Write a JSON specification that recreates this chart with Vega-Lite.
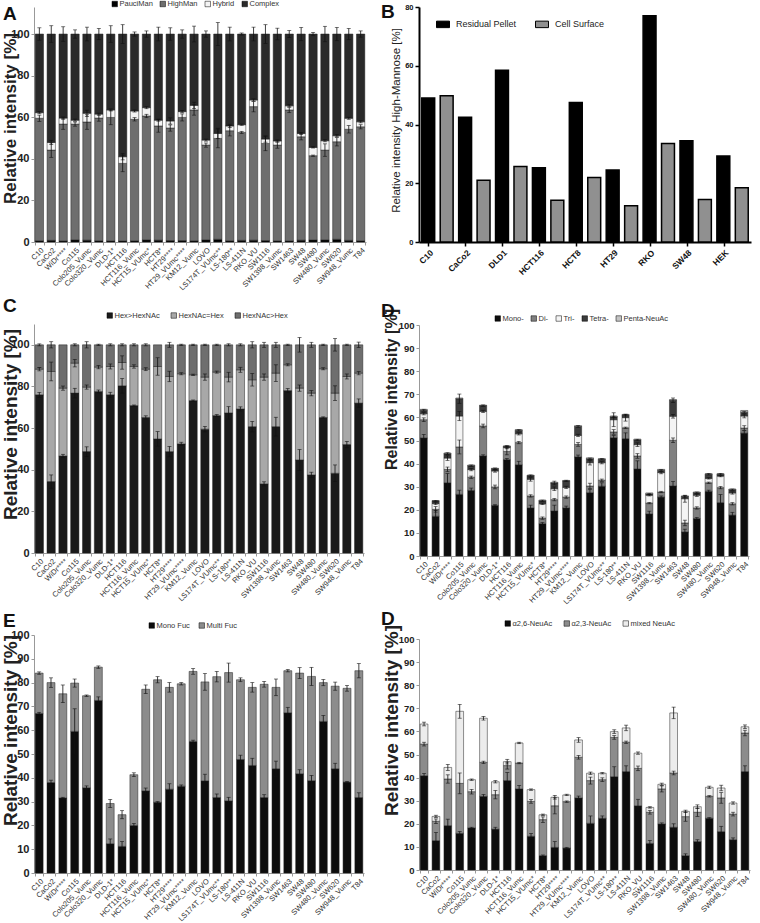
{
"$schema": "https://vega.github.io/schema/vega-lite/v6.json",
"padding": {"left": 1, "top": 0, "right": 2, "bottom": 2},
"spacing": 15,
"resolve": {"scale": {"color": "independent", "x": "independent", "y": "independent"}, "legend": {"color": "independent"}},
"config": {
  "font": "Liberation Sans",
  "view": {"stroke": null},
  "axis": {"grid": false, "labelOverlap": false, "labelBound": false},
  "title": {"anchor": "start", "frame": "group", "fontSize": 19, "fontWeight": "bold", "color": "#111", "offset": 0}
},
"datasets": {
"A": [
{"c":"C10","k":"PauciMan","o":1,"v":0.6,"e":0},{"c":"C10","k":"HighMan","o":2,"v":58.9,"e":1.5},{"c":"C10","k":"Hybrid","o":3,"v":2.7,"e":0.5},{"c":"C10","k":"Complex","o":4,"v":37.8,"e":3},
{"c":"CaCo2","k":"PauciMan","o":1,"v":0.8,"e":0},{"c":"CaCo2","k":"HighMan","o":2,"v":43.4,"e":3.5},{"c":"CaCo2","k":"Hybrid","o":3,"v":3.7,"e":1},{"c":"CaCo2","k":"Complex","o":4,"v":52.1,"e":4},
{"c":"WiDr****","k":"PauciMan","o":1,"v":0.5,"e":0},{"c":"WiDr****","k":"HighMan","o":2,"v":56.2,"e":2.5},{"c":"WiDr****","k":"Hybrid","o":3,"v":2.9,"e":0.5},{"c":"WiDr****","k":"Complex","o":4,"v":40.4,"e":3.5},
{"c":"Co115","k":"PauciMan","o":1,"v":1,"e":0},{"c":"Co115","k":"HighMan","o":2,"v":55.7,"e":1},{"c":"Co115","k":"Hybrid","o":3,"v":1.9,"e":0.5},{"c":"Co115","k":"Complex","o":4,"v":41.4,"e":2},
{"c":"Colo205_Vumc","k":"PauciMan","o":1,"v":0.9,"e":0},{"c":"Colo205_Vumc","k":"HighMan","o":2,"v":56.8,"e":3.5},{"c":"Colo205_Vumc","k":"Hybrid","o":3,"v":4.2,"e":1.5},{"c":"Colo205_Vumc","k":"Complex","o":4,"v":38.1,"e":3.3},
{"c":"Colo320_Vumc","k":"PauciMan","o":1,"v":0.6,"e":0},{"c":"Colo320_Vumc","k":"HighMan","o":2,"v":59,"e":1.5},{"c":"Colo320_Vumc","k":"Hybrid","o":3,"v":1.9,"e":0.5},{"c":"Colo320_Vumc","k":"Complex","o":4,"v":38.5,"e":2.7},
{"c":"DLD-1*","k":"PauciMan","o":1,"v":0.5,"e":0},{"c":"DLD-1*","k":"HighMan","o":2,"v":59.4,"e":3.5},{"c":"DLD-1*","k":"Hybrid","o":3,"v":3.6,"e":0.5},{"c":"DLD-1*","k":"Complex","o":4,"v":36.5,"e":4},
{"c":"HCT116","k":"PauciMan","o":1,"v":0.5,"e":0},{"c":"HCT116","k":"HighMan","o":2,"v":37.3,"e":4},{"c":"HCT116","k":"Hybrid","o":3,"v":3.2,"e":1.5},{"c":"HCT116","k":"Complex","o":4,"v":59,"e":4.5},
{"c":"HCT116_Vumc","k":"PauciMan","o":1,"v":0.6,"e":0},{"c":"HCT116_Vumc","k":"HighMan","o":2,"v":58.4,"e":0.8},{"c":"HCT116_Vumc","k":"Hybrid","o":3,"v":4,"e":0.5},{"c":"HCT116_Vumc","k":"Complex","o":4,"v":37,"e":1},
{"c":"HCT15_VUmc*","k":"PauciMan","o":1,"v":1,"e":0},{"c":"HCT15_VUmc*","k":"HighMan","o":2,"v":59.6,"e":0.8},{"c":"HCT15_VUmc*","k":"Hybrid","o":3,"v":4,"e":0.5},{"c":"HCT15_VUmc*","k":"Complex","o":4,"v":35.4,"e":1.5},
{"c":"HCT8*","k":"PauciMan","o":1,"v":0.9,"e":0},{"c":"HCT8*","k":"HighMan","o":2,"v":54.9,"e":3},{"c":"HCT8*","k":"Hybrid","o":3,"v":2.8,"e":0.5},{"c":"HCT8*","k":"Complex","o":4,"v":41.4,"e":3.3},
{"c":"HT29****","k":"PauciMan","o":1,"v":0.7,"e":0},{"c":"HT29****","k":"HighMan","o":2,"v":54.1,"e":1.5},{"c":"HT29****","k":"Hybrid","o":3,"v":3.4,"e":1.5},{"c":"HT29****","k":"Complex","o":4,"v":41.8,"e":3},
{"c":"HT29_VUmc****","k":"PauciMan","o":1,"v":0.7,"e":0},{"c":"HT29_VUmc****","k":"HighMan","o":2,"v":59.2,"e":1.7},{"c":"HT29_VUmc****","k":"Hybrid","o":3,"v":2.8,"e":0.5},{"c":"HT29_VUmc****","k":"Complex","o":4,"v":37.3,"e":2},
{"c":"KM12_Vumc","k":"PauciMan","o":1,"v":0.6,"e":0},{"c":"KM12_Vumc","k":"HighMan","o":2,"v":62.9,"e":2.5},{"c":"KM12_Vumc","k":"Hybrid","o":3,"v":2.2,"e":1.5},{"c":"KM12_Vumc","k":"Complex","o":4,"v":34.3,"e":3.8},
{"c":"LOVO","k":"PauciMan","o":1,"v":1,"e":0},{"c":"LOVO","k":"HighMan","o":2,"v":45.6,"e":1},{"c":"LOVO","k":"Hybrid","o":3,"v":2.4,"e":0.5},{"c":"LOVO","k":"Complex","o":4,"v":51,"e":1.5},
{"c":"LS174T_VUmc**","k":"PauciMan","o":1,"v":1.3,"e":0},{"c":"LS174T_VUmc**","k":"HighMan","o":2,"v":48.5,"e":4.5},{"c":"LS174T_VUmc**","k":"Hybrid","o":3,"v":2.4,"e":2.5},{"c":"LS174T_VUmc**","k":"Complex","o":4,"v":47.8,"e":5.5},
{"c":"LS-180**","k":"PauciMan","o":1,"v":0.6,"e":0},{"c":"LS-180**","k":"HighMan","o":2,"v":52.9,"e":2.5},{"c":"LS-180**","k":"Hybrid","o":3,"v":2.3,"e":0.8},{"c":"LS-180**","k":"Complex","o":4,"v":44.2,"e":3.3},
{"c":"LS-411N","k":"PauciMan","o":1,"v":0.8,"e":0},{"c":"LS-411N","k":"HighMan","o":2,"v":51.9,"e":0.5},{"c":"LS-411N","k":"Hybrid","o":3,"v":3.7,"e":0.3},{"c":"LS-411N","k":"Complex","o":4,"v":43.6,"e":0.5},
{"c":"RKO_VU","k":"PauciMan","o":1,"v":0.9,"e":0},{"c":"RKO_VU","k":"HighMan","o":2,"v":64.2,"e":2.5},{"c":"RKO_VU","k":"Hybrid","o":3,"v":3.2,"e":0.5},{"c":"RKO_VU","k":"Complex","o":4,"v":31.7,"e":3.3},
{"c":"SW1116","k":"PauciMan","o":1,"v":0.7,"e":0},{"c":"SW1116","k":"HighMan","o":2,"v":46.7,"e":3.5},{"c":"SW1116","k":"Hybrid","o":3,"v":2.1,"e":1.5},{"c":"SW1116","k":"Complex","o":4,"v":50.5,"e":4.5},
{"c":"SW1398_Vumc","k":"PauciMan","o":1,"v":0.5,"e":0},{"c":"SW1398_Vumc","k":"HighMan","o":2,"v":46.1,"e":1.5},{"c":"SW1398_Vumc","k":"Hybrid","o":3,"v":2,"e":0.5},{"c":"SW1398_Vumc","k":"Complex","o":4,"v":51.4,"e":2.8},
{"c":"SW1463","k":"PauciMan","o":1,"v":0.5,"e":0},{"c":"SW1463","k":"HighMan","o":2,"v":63,"e":1.3},{"c":"SW1463","k":"Hybrid","o":3,"v":2,"e":0.5},{"c":"SW1463","k":"Complex","o":4,"v":34.5,"e":1.7},
{"c":"SW48","k":"PauciMan","o":1,"v":0.9,"e":0},{"c":"SW48","k":"HighMan","o":2,"v":49.7,"e":1.5},{"c":"SW48","k":"Hybrid","o":3,"v":1.6,"e":0.5},{"c":"SW48","k":"Complex","o":4,"v":47.8,"e":3.2},
{"c":"SW480","k":"PauciMan","o":1,"v":1,"e":0},{"c":"SW480","k":"HighMan","o":2,"v":40.5,"e":0.3},{"c":"SW480","k":"Hybrid","o":3,"v":4,"e":0.3},{"c":"SW480","k":"Complex","o":4,"v":54.5,"e":0.8},
{"c":"SW480_Vumc","k":"PauciMan","o":1,"v":1,"e":0},{"c":"SW480_Vumc","k":"HighMan","o":2,"v":43.2,"e":3},{"c":"SW480_Vumc","k":"Hybrid","o":3,"v":4.5,"e":0.5},{"c":"SW480_Vumc","k":"Complex","o":4,"v":51.3,"e":3.7},
{"c":"SW620","k":"PauciMan","o":1,"v":1.3,"e":0},{"c":"SW620","k":"HighMan","o":2,"v":46.9,"e":2},{"c":"SW620","k":"Hybrid","o":3,"v":2.9,"e":0.5},{"c":"SW620","k":"Complex","o":4,"v":48.9,"e":3.2},
{"c":"SW948_Vumc","k":"PauciMan","o":1,"v":0.8,"e":0},{"c":"SW948_Vumc","k":"HighMan","o":2,"v":53.4,"e":1.8},{"c":"SW948_Vumc","k":"Hybrid","o":3,"v":5.3,"e":0.5},{"c":"SW948_Vumc","k":"Complex","o":4,"v":40.5,"e":2.7},
{"c":"T84","k":"PauciMan","o":1,"v":0.6,"e":0},{"c":"T84","k":"HighMan","o":2,"v":54.8,"e":1},{"c":"T84","k":"Hybrid","o":3,"v":2.4,"e":0.5},{"c":"T84","k":"Complex","o":4,"v":42.2,"e":1.5}
],
"B": [
{"c":"C10","k":"Residual Pellet","v":49},{"c":"C10","k":"Cell Surface","v":49.8},
{"c":"CaCo2","k":"Residual Pellet","v":42.5},{"c":"CaCo2","k":"Cell Surface","v":21},
{"c":"DLD1","k":"Residual Pellet","v":58.5},{"c":"DLD1","k":"Cell Surface","v":25.7},
{"c":"HCT116","k":"Residual Pellet","v":25.3},{"c":"HCT116","k":"Cell Surface","v":14.2},
{"c":"HCT8","k":"Residual Pellet","v":47.5},{"c":"HCT8","k":"Cell Surface","v":22},
{"c":"HT29","k":"Residual Pellet","v":24.5},{"c":"HT29","k":"Cell Surface","v":12.3},
{"c":"RKO","k":"Residual Pellet","v":77},{"c":"RKO","k":"Cell Surface","v":33.5},
{"c":"SW48","k":"Residual Pellet","v":34.5},{"c":"SW48","k":"Cell Surface","v":14.5},
{"c":"HEK","k":"Residual Pellet","v":29.3},{"c":"HEK","k":"Cell Surface","v":18.5}
],
"C": [
{"c":"C10","k":"Hex>HexNAc","o":1,"v":76,"e":1.2},{"c":"C10","k":"HexNAc=Hex","o":2,"v":12.3,"e":0.8},{"c":"C10","k":"HexNAc>Hex","o":3,"v":11.7,"e":0.5},
{"c":"CaCo2","k":"Hex>HexNAc","o":1,"v":34.3,"e":3.2},{"c":"CaCo2","k":"HexNAc=Hex","o":2,"v":52.9,"e":4.5},{"c":"CaCo2","k":"HexNAc>Hex","o":3,"v":12.8,"e":1.5},
{"c":"WiDr****","k":"Hex>HexNAc","o":1,"v":46.6,"e":0.8},{"c":"WiDr****","k":"HexNAc=Hex","o":2,"v":32.6,"e":1},{"c":"WiDr****","k":"HexNAc>Hex","o":3,"v":20.8,"e":0},
{"c":"Co115","k":"Hex>HexNAc","o":1,"v":76.8,"e":2.3},{"c":"Co115","k":"HexNAc=Hex","o":2,"v":14.4,"e":1.8},{"c":"Co115","k":"HexNAc>Hex","o":3,"v":8.8,"e":0.5},
{"c":"Colo205_Vumc","k":"Hex>HexNAc","o":1,"v":48.7,"e":2.3},{"c":"Colo205_Vumc","k":"HexNAc=Hex","o":2,"v":31,"e":1},{"c":"Colo205_Vumc","k":"HexNAc>Hex","o":3,"v":20.3,"e":1.5},
{"c":"Colo320_Vumc","k":"Hex>HexNAc","o":1,"v":77.6,"e":0.7},{"c":"Colo320_Vumc","k":"HexNAc=Hex","o":2,"v":11.7,"e":0.8},{"c":"Colo320_Vumc","k":"HexNAc>Hex","o":3,"v":10.7,"e":0.3},
{"c":"DLD-1*","k":"Hex>HexNAc","o":1,"v":76,"e":1.2},{"c":"DLD-1*","k":"HexNAc=Hex","o":2,"v":13.6,"e":1.2},{"c":"DLD-1*","k":"HexNAc>Hex","o":3,"v":10.4,"e":0.5},
{"c":"HCT116","k":"Hex>HexNAc","o":1,"v":80.3,"e":3.5},{"c":"HCT116","k":"HexNAc=Hex","o":2,"v":11.2,"e":3.2},{"c":"HCT116","k":"HexNAc>Hex","o":3,"v":8.5,"e":0.5},
{"c":"HCT116_Vumc","k":"Hex>HexNAc","o":1,"v":70.8,"e":0.3},{"c":"HCT116_Vumc","k":"HexNAc=Hex","o":2,"v":18.8,"e":0.8},{"c":"HCT116_Vumc","k":"HexNAc>Hex","o":3,"v":10.4,"e":0.5},
{"c":"HCT15_VUmc*","k":"Hex>HexNAc","o":1,"v":65.1,"e":0.8},{"c":"HCT15_VUmc*","k":"HexNAc=Hex","o":2,"v":23.2,"e":0.7},{"c":"HCT15_VUmc*","k":"HexNAc>Hex","o":3,"v":11.7,"e":0.5},
{"c":"HCT8*","k":"Hex>HexNAc","o":1,"v":54.8,"e":3.5},{"c":"HCT8*","k":"HexNAc=Hex","o":2,"v":34.8,"e":4.2},{"c":"HCT8*","k":"HexNAc>Hex","o":3,"v":10.4,"e":0},
{"c":"HT29****","k":"Hex>HexNAc","o":1,"v":48.7,"e":2.5},{"c":"HT29****","k":"HexNAc=Hex","o":2,"v":36.1,"e":2.5},{"c":"HT29****","k":"HexNAc>Hex","o":3,"v":15.2,"e":1.2},
{"c":"HT29_VUmc****","k":"Hex>HexNAc","o":1,"v":52.4,"e":0.8},{"c":"HT29_VUmc****","k":"HexNAc=Hex","o":2,"v":33.7,"e":0.5},{"c":"HT29_VUmc****","k":"HexNAc>Hex","o":3,"v":13.9,"e":0.3},
{"c":"KM12_Vumc","k":"Hex>HexNAc","o":1,"v":73.2,"e":0.3},{"c":"KM12_Vumc","k":"HexNAc=Hex","o":2,"v":12.4,"e":0.3},{"c":"KM12_Vumc","k":"HexNAc>Hex","o":3,"v":14.4,"e":0.3},
{"c":"LOVO","k":"Hex>HexNAc","o":1,"v":59.5,"e":1.3},{"c":"LOVO","k":"HexNAc=Hex","o":2,"v":25,"e":1.5},{"c":"LOVO","k":"HexNAc>Hex","o":3,"v":15.5,"e":0.3},
{"c":"LS174T_VUmc**","k":"Hex>HexNAc","o":1,"v":66,"e":0.5},{"c":"LS174T_VUmc**","k":"HexNAc=Hex","o":2,"v":20.9,"e":0.5},{"c":"LS174T_VUmc**","k":"HexNAc>Hex","o":3,"v":13.1,"e":0.3},
{"c":"LS-180**","k":"Hex>HexNAc","o":1,"v":67.3,"e":3},{"c":"LS-180**","k":"HexNAc=Hex","o":2,"v":17.2,"e":2.3},{"c":"LS-180**","k":"HexNAc>Hex","o":3,"v":15.5,"e":0.5},
{"c":"LS-411N","k":"Hex>HexNAc","o":1,"v":69.2,"e":1},{"c":"LS-411N","k":"HexNAc=Hex","o":2,"v":18.8,"e":1.2},{"c":"LS-411N","k":"HexNAc>Hex","o":3,"v":12,"e":0.5},
{"c":"RKO_VU","k":"Hex>HexNAc","o":1,"v":60.7,"e":2.5},{"c":"RKO_VU","k":"HexNAc=Hex","o":2,"v":22.5,"e":3},{"c":"RKO_VU","k":"HexNAc>Hex","o":3,"v":16.8,"e":1.5},
{"c":"SW1116","k":"Hex>HexNAc","o":1,"v":33.2,"e":1},{"c":"SW1116","k":"HexNAc=Hex","o":2,"v":51.3,"e":1.5},{"c":"SW1116","k":"HexNAc>Hex","o":3,"v":15.5,"e":1.2},
{"c":"SW1398_Vumc","k":"Hex>HexNAc","o":1,"v":60.7,"e":4.5},{"c":"SW1398_Vumc","k":"HexNAc=Hex","o":2,"v":25.7,"e":4},{"c":"SW1398_Vumc","k":"HexNAc>Hex","o":3,"v":13.6,"e":1.2},
{"c":"SW1463","k":"Hex>HexNAc","o":1,"v":78,"e":1},{"c":"SW1463","k":"HexNAc=Hex","o":2,"v":12.4,"e":0.5},{"c":"SW1463","k":"HexNAc>Hex","o":3,"v":9.6,"e":0.3},
{"c":"SW48","k":"Hex>HexNAc","o":1,"v":44.7,"e":5},{"c":"SW48","k":"HexNAc=Hex","o":2,"v":34.5,"e":1.5},{"c":"SW48","k":"HexNAc>Hex","o":3,"v":20.8,"e":3.5},
{"c":"SW480","k":"Hex>HexNAc","o":1,"v":37.5,"e":1.3},{"c":"SW480","k":"HexNAc=Hex","o":2,"v":39.3,"e":1.3},{"c":"SW480","k":"HexNAc>Hex","o":3,"v":23.2,"e":1.2},
{"c":"SW480_Vumc","k":"Hex>HexNAc","o":1,"v":65.1,"e":0.3},{"c":"SW480_Vumc","k":"HexNAc=Hex","o":2,"v":23.4,"e":0.5},{"c":"SW480_Vumc","k":"HexNAc>Hex","o":3,"v":11.5,"e":0.3},
{"c":"SW620","k":"Hex>HexNAc","o":1,"v":38.3,"e":4},{"c":"SW620","k":"HexNAc=Hex","o":2,"v":38.5,"e":3.5},{"c":"SW620","k":"HexNAc>Hex","o":3,"v":23.2,"e":3},
{"c":"SW948_Vumc","k":"Hex>HexNAc","o":1,"v":52.1,"e":1.5},{"c":"SW948_Vumc","k":"HexNAc=Hex","o":2,"v":32.7,"e":1.2},{"c":"SW948_Vumc","k":"HexNAc>Hex","o":3,"v":15.2,"e":0.3},
{"c":"T84","k":"Hex>HexNAc","o":1,"v":72,"e":2},{"c":"T84","k":"HexNAc=Hex","o":2,"v":14.4,"e":0.8},{"c":"T84","k":"HexNAc>Hex","o":3,"v":13.6,"e":1.3}
],
"D": [
{"c":"C10","k":"Mono-","o":1,"v":51.1,"e":1.5},{"c":"C10","k":"Di-","o":2,"v":7.9,"e":0.8},{"c":"C10","k":"Tri-","o":3,"v":2.6,"e":0.5},{"c":"C10","k":"Tetra-","o":4,"v":1.5,"e":0.4},{"c":"C10","k":"Penta-NeuAc","o":5,"v":0.4,"e":0},
{"c":"CaCo2","k":"Mono-","o":1,"v":17.2,"e":2.5},{"c":"CaCo2","k":"Di-","o":2,"v":3,"e":1.2},{"c":"CaCo2","k":"Tri-","o":3,"v":2.5,"e":0.5},{"c":"CaCo2","k":"Tetra-","o":4,"v":1.1,"e":0.3},{"c":"CaCo2","k":"Penta-NeuAc","o":5,"v":0.2,"e":0},
{"c":"WiDr****","k":"Mono-","o":1,"v":31.7,"e":4},{"c":"WiDr****","k":"Di-","o":2,"v":5.8,"e":1},{"c":"WiDr****","k":"Tri-","o":3,"v":4.9,"e":1},{"c":"WiDr****","k":"Tetra-","o":4,"v":1.9,"e":0.4},{"c":"WiDr****","k":"Penta-NeuAc","o":5,"v":0.3,"e":0},
{"c":"Co115","k":"Mono-","o":1,"v":26.7,"e":1.8},{"c":"Co115","k":"Di-","o":2,"v":20.5,"e":3},{"c":"Co115","k":"Tri-","o":3,"v":13.4,"e":2},{"c":"Co115","k":"Tetra-","o":4,"v":7.5,"e":2},{"c":"Co115","k":"Penta-NeuAc","o":5,"v":0.3,"e":0},
{"c":"Colo205_Vumc","k":"Mono-","o":1,"v":28.4,"e":1},{"c":"Colo205_Vumc","k":"Di-","o":2,"v":5.7,"e":0.5},{"c":"Colo205_Vumc","k":"Tri-","o":3,"v":3.3,"e":0.5},{"c":"Colo205_Vumc","k":"Tetra-","o":4,"v":1.7,"e":0.3},{"c":"Colo205_Vumc","k":"Penta-NeuAc","o":5,"v":0.3,"e":0},
{"c":"Colo320_Vumc","k":"Mono-","o":1,"v":43.3,"e":0.5},{"c":"Colo320_Vumc","k":"Di-","o":2,"v":13,"e":0.8},{"c":"Colo320_Vumc","k":"Tri-","o":3,"v":6.3,"e":0.5},{"c":"Colo320_Vumc","k":"Tetra-","o":4,"v":2.5,"e":0.3},{"c":"Colo320_Vumc","k":"Penta-NeuAc","o":5,"v":0.2,"e":0},
{"c":"DLD-1*","k":"Mono-","o":1,"v":21.9,"e":0.3},{"c":"DLD-1*","k":"Di-","o":2,"v":8,"e":0.8},{"c":"DLD-1*","k":"Tri-","o":3,"v":6.9,"e":0.5},{"c":"DLD-1*","k":"Tetra-","o":4,"v":1,"e":0.3},{"c":"DLD-1*","k":"Penta-NeuAc","o":5,"v":0.2,"e":0},
{"c":"HCT116","k":"Mono-","o":1,"v":41.7,"e":0.5},{"c":"HCT116","k":"Di-","o":2,"v":3.6,"e":1.5},{"c":"HCT116","k":"Tri-","o":3,"v":1.6,"e":0.5},{"c":"HCT116","k":"Tetra-","o":4,"v":0.6,"e":0.3},{"c":"HCT116","k":"Penta-NeuAc","o":5,"v":0.1,"e":0},
{"c":"HCT116_Vumc","k":"Mono-","o":1,"v":39.5,"e":1.5},{"c":"HCT116_Vumc","k":"Di-","o":2,"v":9.6,"e":0.5},{"c":"HCT116_Vumc","k":"Tri-","o":3,"v":3.8,"e":0.5},{"c":"HCT116_Vumc","k":"Tetra-","o":4,"v":1.5,"e":0.3},{"c":"HCT116_Vumc","k":"Penta-NeuAc","o":5,"v":0.3,"e":0},
{"c":"HCT15_VUmc*","k":"Mono-","o":1,"v":20.8,"e":1.2},{"c":"HCT15_VUmc*","k":"Di-","o":2,"v":5.2,"e":0.5},{"c":"HCT15_VUmc*","k":"Tri-","o":3,"v":7.2,"e":0.8},{"c":"HCT15_VUmc*","k":"Tetra-","o":4,"v":1.6,"e":0.3},{"c":"HCT15_VUmc*","k":"Penta-NeuAc","o":5,"v":0.2,"e":0},
{"c":"HCT8*","k":"Mono-","o":1,"v":14,"e":0.5},{"c":"HCT8*","k":"Di-","o":2,"v":2.4,"e":0.5},{"c":"HCT8*","k":"Tri-","o":3,"v":6.2,"e":0.3},{"c":"HCT8*","k":"Tetra-","o":4,"v":1.3,"e":0.3},{"c":"HCT8*","k":"Penta-NeuAc","o":5,"v":0.3,"e":0},
{"c":"HT29****","k":"Mono-","o":1,"v":19.5,"e":2.5},{"c":"HT29****","k":"Di-","o":2,"v":4.9,"e":0.5},{"c":"HT29****","k":"Tri-","o":3,"v":4.7,"e":0.8},{"c":"HT29****","k":"Tetra-","o":4,"v":2.5,"e":0.8},{"c":"HT29****","k":"Penta-NeuAc","o":5,"v":0.3,"e":0},
{"c":"HT29_VUmc****","k":"Mono-","o":1,"v":20.8,"e":0.8},{"c":"HT29_VUmc****","k":"Di-","o":2,"v":4.7,"e":0.5},{"c":"HT29_VUmc****","k":"Tri-","o":3,"v":4.2,"e":0.5},{"c":"HT29_VUmc****","k":"Tetra-","o":4,"v":2.8,"e":0.3},{"c":"HT29_VUmc****","k":"Penta-NeuAc","o":5,"v":0.2,"e":0},
{"c":"KM12_Vumc","k":"Mono-","o":1,"v":42.9,"e":0.8},{"c":"KM12_Vumc","k":"Di-","o":2,"v":5.4,"e":0.8},{"c":"KM12_Vumc","k":"Tri-","o":3,"v":3.9,"e":0.5},{"c":"KM12_Vumc","k":"Tetra-","o":4,"v":3.9,"e":0.4},{"c":"KM12_Vumc","k":"Penta-NeuAc","o":5,"v":0.3,"e":0},
{"c":"LOVO","k":"Mono-","o":1,"v":27.4,"e":1.5},{"c":"LOVO","k":"Di-","o":2,"v":2.9,"e":1.2},{"c":"LOVO","k":"Tri-","o":3,"v":10.1,"e":1},{"c":"LOVO","k":"Tetra-","o":4,"v":1.7,"e":0.3},{"c":"LOVO","k":"Penta-NeuAc","o":5,"v":0.4,"e":0},
{"c":"LS174T_VUmc**","k":"Mono-","o":1,"v":30.2,"e":1.5},{"c":"LS174T_VUmc**","k":"Di-","o":2,"v":2.6,"e":0.5},{"c":"LS174T_VUmc**","k":"Tri-","o":3,"v":7.6,"e":0.5},{"c":"LS174T_VUmc**","k":"Tetra-","o":4,"v":1.5,"e":0.3},{"c":"LS174T_VUmc**","k":"Penta-NeuAc","o":5,"v":0.2,"e":0},
{"c":"LS-180**","k":"Mono-","o":1,"v":51.2,"e":1},{"c":"LS-180**","k":"Di-","o":2,"v":2.5,"e":1},{"c":"LS-180**","k":"Tri-","o":3,"v":5.3,"e":3},{"c":"LS-180**","k":"Tetra-","o":4,"v":1.2,"e":0.3},{"c":"LS-180**","k":"Penta-NeuAc","o":5,"v":0.4,"e":0},
{"c":"LS-411N","k":"Mono-","o":1,"v":50.8,"e":2.5},{"c":"LS-411N","k":"Di-","o":2,"v":4.7,"e":0.3},{"c":"LS-411N","k":"Tri-","o":3,"v":4.4,"e":1.5},{"c":"LS-411N","k":"Tetra-","o":4,"v":1.1,"e":0.3},{"c":"LS-411N","k":"Penta-NeuAc","o":5,"v":0.3,"e":0},
{"c":"RKO_VU","k":"Mono-","o":1,"v":37.7,"e":3.5},{"c":"RKO_VU","k":"Di-","o":2,"v":5.6,"e":1},{"c":"RKO_VU","k":"Tri-","o":3,"v":4.9,"e":0.8},{"c":"RKO_VU","k":"Tetra-","o":4,"v":2,"e":0.3},{"c":"RKO_VU","k":"Penta-NeuAc","o":5,"v":0.4,"e":0},
{"c":"SW1116","k":"Mono-","o":1,"v":18.2,"e":1.2},{"c":"SW1116","k":"Di-","o":2,"v":4.7,"e":0.3},{"c":"SW1116","k":"Tri-","o":3,"v":3.4,"e":0.3},{"c":"SW1116","k":"Tetra-","o":4,"v":0.5,"e":0.2},{"c":"SW1116","k":"Penta-NeuAc","o":5,"v":0.5,"e":0},
{"c":"SW1398_Vumc","k":"Mono-","o":1,"v":25.5,"e":0.5},{"c":"SW1398_Vumc","k":"Di-","o":2,"v":2.2,"e":0.3},{"c":"SW1398_Vumc","k":"Tri-","o":3,"v":8.4,"e":0.5},{"c":"SW1398_Vumc","k":"Tetra-","o":4,"v":1,"e":0.3},{"c":"SW1398_Vumc","k":"Penta-NeuAc","o":5,"v":0.4,"e":0},
{"c":"SW1463","k":"Mono-","o":1,"v":30.3,"e":2},{"c":"SW1463","k":"Di-","o":2,"v":19.8,"e":1},{"c":"SW1463","k":"Tri-","o":3,"v":10.4,"e":0.8},{"c":"SW1463","k":"Tetra-","o":4,"v":6.9,"e":1},{"c":"SW1463","k":"Penta-NeuAc","o":5,"v":0.3,"e":0},
{"c":"SW48","k":"Mono-","o":1,"v":10.4,"e":1.2},{"c":"SW48","k":"Di-","o":2,"v":3.9,"e":1.2},{"c":"SW48","k":"Tri-","o":3,"v":10.5,"e":1.5},{"c":"SW48","k":"Tetra-","o":4,"v":1,"e":0.3},{"c":"SW48","k":"Penta-NeuAc","o":5,"v":0.2,"e":0},
{"c":"SW480","k":"Mono-","o":1,"v":16.2,"e":0.5},{"c":"SW480","k":"Di-","o":2,"v":4.6,"e":0.5},{"c":"SW480","k":"Tri-","o":3,"v":5.5,"e":0.5},{"c":"SW480","k":"Tetra-","o":4,"v":1.1,"e":0.3},{"c":"SW480","k":"Penta-NeuAc","o":5,"v":0.3,"e":0},
{"c":"SW480_Vumc","k":"Mono-","o":1,"v":28,"e":0.5},{"c":"SW480_Vumc","k":"Di-","o":2,"v":3.7,"e":0.3},{"c":"SW480_Vumc","k":"Tri-","o":3,"v":1.9,"e":0.3},{"c":"SW480_Vumc","k":"Tetra-","o":4,"v":1.8,"e":0.3},{"c":"SW480_Vumc","k":"Penta-NeuAc","o":5,"v":0.2,"e":0},
{"c":"SW620","k":"Mono-","o":1,"v":23.1,"e":3.5},{"c":"SW620","k":"Di-","o":2,"v":6.5,"e":0.5},{"c":"SW620","k":"Tri-","o":3,"v":5,"e":0.3},{"c":"SW620","k":"Tetra-","o":4,"v":0.8,"e":0.3},{"c":"SW620","k":"Penta-NeuAc","o":5,"v":0.2,"e":0},
{"c":"SW948_Vumc","k":"Mono-","o":1,"v":17.7,"e":1.2},{"c":"SW948_Vumc","k":"Di-","o":2,"v":4.9,"e":0.5},{"c":"SW948_Vumc","k":"Tri-","o":3,"v":4.7,"e":0.5},{"c":"SW948_Vumc","k":"Tetra-","o":4,"v":1.4,"e":0.3},{"c":"SW948_Vumc","k":"Penta-NeuAc","o":5,"v":0.3,"e":0},
{"c":"T84","k":"Mono-","o":1,"v":53.2,"e":1},{"c":"T84","k":"Di-","o":2,"v":2.2,"e":1},{"c":"T84","k":"Tri-","o":3,"v":5.2,"e":0.8},{"c":"T84","k":"Tetra-","o":4,"v":1.6,"e":0.4},{"c":"T84","k":"Penta-NeuAc","o":5,"v":0.8,"e":0}
],
"E": [
{"c":"C10","k":"Mono Fuc","o":1,"v":67,"e":0.5},{"c":"C10","k":"Multi Fuc","o":2,"v":17,"e":0.5},
{"c":"CaCo2","k":"Mono Fuc","o":1,"v":38,"e":1},{"c":"CaCo2","k":"Multi Fuc","o":2,"v":42,"e":2},
{"c":"WiDr****","k":"Mono Fuc","o":1,"v":31.5,"e":0.3},{"c":"WiDr****","k":"Multi Fuc","o":2,"v":43.8,"e":3.7},
{"c":"Co115","k":"Mono Fuc","o":1,"v":59.5,"e":9.5},{"c":"Co115","k":"Multi Fuc","o":2,"v":20.3,"e":1.7},
{"c":"Colo205_Vumc","k":"Mono Fuc","o":1,"v":35.8,"e":0.8},{"c":"Colo205_Vumc","k":"Multi Fuc","o":2,"v":38.7,"e":0.3},
{"c":"Colo320_Vumc","k":"Mono Fuc","o":1,"v":72.5,"e":1.5},{"c":"Colo320_Vumc","k":"Multi Fuc","o":2,"v":14,"e":0.5},
{"c":"DLD-1*","k":"Mono Fuc","o":1,"v":12.3,"e":2},{"c":"DLD-1*","k":"Multi Fuc","o":2,"v":16.9,"e":1.7},
{"c":"HCT116","k":"Mono Fuc","o":1,"v":11.2,"e":2},{"c":"HCT116","k":"Multi Fuc","o":2,"v":13.3,"e":1.7},
{"c":"HCT116_Vumc","k":"Mono Fuc","o":1,"v":20,"e":0.8},{"c":"HCT116_Vumc","k":"Multi Fuc","o":2,"v":21.3,"e":0.8},
{"c":"HCT15_VUmc*","k":"Mono Fuc","o":1,"v":34.5,"e":1.2},{"c":"HCT15_VUmc*","k":"Multi Fuc","o":2,"v":42.7,"e":1.8},
{"c":"HCT8*","k":"Mono Fuc","o":1,"v":29.7,"e":0.3},{"c":"HCT8*","k":"Multi Fuc","o":2,"v":51.5,"e":1.3},
{"c":"HT29****","k":"Mono Fuc","o":1,"v":35.2,"e":2.3},{"c":"HT29****","k":"Multi Fuc","o":2,"v":42.8,"e":2},
{"c":"HT29_VUmc****","k":"Mono Fuc","o":1,"v":36.5,"e":0.5},{"c":"HT29_VUmc****","k":"Multi Fuc","o":2,"v":43,"e":0.5},
{"c":"KM12_Vumc","k":"Mono Fuc","o":1,"v":55.3,"e":0.5},{"c":"KM12_Vumc","k":"Multi Fuc","o":2,"v":29.4,"e":1.2},
{"c":"LOVO","k":"Mono Fuc","o":1,"v":38.7,"e":2.8},{"c":"LOVO","k":"Multi Fuc","o":2,"v":41.6,"e":3.5},
{"c":"LS174T_VUmc**","k":"Mono Fuc","o":1,"v":31.7,"e":1.5},{"c":"LS174T_VUmc**","k":"Multi Fuc","o":2,"v":50.8,"e":2.2},
{"c":"LS-180**","k":"Mono Fuc","o":1,"v":30.3,"e":1.5},{"c":"LS-180**","k":"Multi Fuc","o":2,"v":53.9,"e":4},
{"c":"LS-411N","k":"Mono Fuc","o":1,"v":47.7,"e":1.8},{"c":"LS-411N","k":"Multi Fuc","o":2,"v":33.5,"e":0.8},
{"c":"RKO_VU","k":"Mono Fuc","o":1,"v":45.2,"e":3},{"c":"RKO_VU","k":"Multi Fuc","o":2,"v":32.8,"e":2},
{"c":"SW1116","k":"Mono Fuc","o":1,"v":31.7,"e":1.2},{"c":"SW1116","k":"Multi Fuc","o":2,"v":47.6,"e":1.2},
{"c":"SW1398_Vumc","k":"Mono Fuc","o":1,"v":43.8,"e":3.2},{"c":"SW1398_Vumc","k":"Multi Fuc","o":2,"v":34.2,"e":3.5},
{"c":"SW1463","k":"Mono Fuc","o":1,"v":67.3,"e":2.3},{"c":"SW1463","k":"Multi Fuc","o":2,"v":17.7,"e":0.5},
{"c":"SW48","k":"Mono Fuc","o":1,"v":41.7,"e":1.7},{"c":"SW48","k":"Multi Fuc","o":2,"v":42.3,"e":2.3},
{"c":"SW480","k":"Mono Fuc","o":1,"v":38.8,"e":2.2},{"c":"SW480","k":"Multi Fuc","o":2,"v":43.8,"e":3.8},
{"c":"SW480_Vumc","k":"Mono Fuc","o":1,"v":63.7,"e":2.5},{"c":"SW480_Vumc","k":"Multi Fuc","o":2,"v":16.3,"e":1.3},
{"c":"SW620","k":"Mono Fuc","o":1,"v":43.8,"e":2.3},{"c":"SW620","k":"Multi Fuc","o":2,"v":34.7,"e":1.7},
{"c":"SW948_Vumc","k":"Mono Fuc","o":1,"v":38.2,"e":0.3},{"c":"SW948_Vumc","k":"Multi Fuc","o":2,"v":39.4,"e":1.2},
{"c":"T84","k":"Mono Fuc","o":1,"v":31.7,"e":2},{"c":"T84","k":"Multi Fuc","o":2,"v":53.3,"e":3}
],
"F": [
{"c":"C10","k":"α2,6-NeuAc","o":1,"v":40.8,"e":1},{"c":"C10","k":"α2,3-NeuAc","o":2,"v":13.7,"e":0.8},{"c":"C10","k":"mixed NeuAc","o":3,"v":8.7,"e":0.8},
{"c":"CaCo2","k":"α2,6-NeuAc","o":1,"v":12.7,"e":3.5},{"c":"CaCo2","k":"α2,3-NeuAc","o":2,"v":8.4,"e":1},{"c":"CaCo2","k":"mixed NeuAc","o":3,"v":2.1,"e":0.5},
{"c":"WiDr****","k":"α2,6-NeuAc","o":1,"v":19.2,"e":2.8},{"c":"WiDr****","k":"α2,3-NeuAc","o":2,"v":20.2,"e":1.8},{"c":"WiDr****","k":"mixed NeuAc","o":3,"v":5,"e":1.3},
{"c":"Co115","k":"α2,6-NeuAc","o":1,"v":15.9,"e":0.8},{"c":"Co115","k":"α2,3-NeuAc","o":2,"v":21.6,"e":4.5},{"c":"Co115","k":"mixed NeuAc","o":3,"v":31.2,"e":3},
{"c":"Colo205_Vumc","k":"α2,6-NeuAc","o":1,"v":18.2,"e":0.3},{"c":"Colo205_Vumc","k":"α2,3-NeuAc","o":2,"v":15.7,"e":1},{"c":"Colo205_Vumc","k":"mixed NeuAc","o":3,"v":5.2,"e":0.3},
{"c":"Colo320_Vumc","k":"α2,6-NeuAc","o":1,"v":31.9,"e":0.8},{"c":"Colo320_Vumc","k":"α2,3-NeuAc","o":2,"v":14.7,"e":0.5},{"c":"Colo320_Vumc","k":"mixed NeuAc","o":3,"v":19.1,"e":0.8},
{"c":"DLD-1*","k":"α2,6-NeuAc","o":1,"v":17.7,"e":0.8},{"c":"DLD-1*","k":"α2,3-NeuAc","o":2,"v":14.9,"e":1.8},{"c":"DLD-1*","k":"mixed NeuAc","o":3,"v":5.6,"e":0.5},
{"c":"HCT116","k":"α2,6-NeuAc","o":1,"v":38.7,"e":3.5},{"c":"HCT116","k":"α2,3-NeuAc","o":2,"v":6.5,"e":1.5},{"c":"HCT116","k":"mixed NeuAc","o":3,"v":1.7,"e":1},
{"c":"HCT116_Vumc","k":"α2,6-NeuAc","o":1,"v":35.1,"e":1.5},{"c":"HCT116_Vumc","k":"α2,3-NeuAc","o":2,"v":11.2,"e":0.3},{"c":"HCT116_Vumc","k":"mixed NeuAc","o":3,"v":8.7,"e":0.3},
{"c":"HCT15_VUmc*","k":"α2,6-NeuAc","o":1,"v":14.6,"e":1.2},{"c":"HCT15_VUmc*","k":"α2,3-NeuAc","o":2,"v":15.1,"e":0.8},{"c":"HCT15_VUmc*","k":"mixed NeuAc","o":3,"v":5.1,"e":0.3},
{"c":"HCT8*","k":"α2,6-NeuAc","o":1,"v":6.2,"e":0.3},{"c":"HCT8*","k":"α2,3-NeuAc","o":2,"v":15.6,"e":1.2},{"c":"HCT8*","k":"mixed NeuAc","o":3,"v":2.1,"e":0.3},
{"c":"HT29****","k":"α2,6-NeuAc","o":1,"v":9.8,"e":2.5},{"c":"HT29****","k":"α2,3-NeuAc","o":2,"v":18,"e":3.5},{"c":"HT29****","k":"mixed NeuAc","o":3,"v":3.7,"e":0.8},
{"c":"HT29_VUmc****","k":"α2,6-NeuAc","o":1,"v":9.5,"e":0.3},{"c":"HT29_VUmc****","k":"α2,3-NeuAc","o":2,"v":20.1,"e":0.3},{"c":"HT29_VUmc****","k":"mixed NeuAc","o":3,"v":2.9,"e":0.3},
{"c":"KM12_Vumc","k":"α2,6-NeuAc","o":1,"v":31.2,"e":0.8},{"c":"KM12_Vumc","k":"α2,3-NeuAc","o":2,"v":17.6,"e":0.8},{"c":"KM12_Vumc","k":"mixed NeuAc","o":3,"v":7.5,"e":1},
{"c":"LOVO","k":"α2,6-NeuAc","o":1,"v":20.2,"e":3.2},{"c":"LOVO","k":"α2,3-NeuAc","o":2,"v":18.5,"e":1.5},{"c":"LOVO","k":"mixed NeuAc","o":3,"v":3.2,"e":0.5},
{"c":"LS174T_VUmc**","k":"α2,6-NeuAc","o":1,"v":22.4,"e":1},{"c":"LS174T_VUmc**","k":"α2,3-NeuAc","o":2,"v":16.7,"e":0.8},{"c":"LS174T_VUmc**","k":"mixed NeuAc","o":3,"v":2.8,"e":0.3},
{"c":"LS-180**","k":"α2,6-NeuAc","o":1,"v":40.4,"e":4.3},{"c":"LS-180**","k":"α2,3-NeuAc","o":2,"v":17,"e":0.8},{"c":"LS-180**","k":"mixed NeuAc","o":3,"v":2.5,"e":0.8},
{"c":"LS-411N","k":"α2,6-NeuAc","o":1,"v":42.6,"e":2.5},{"c":"LS-411N","k":"α2,3-NeuAc","o":2,"v":12.7,"e":0.5},{"c":"LS-411N","k":"mixed NeuAc","o":3,"v":6.2,"e":1.2},
{"c":"RKO_VU","k":"α2,6-NeuAc","o":1,"v":27.8,"e":2.8},{"c":"RKO_VU","k":"α2,3-NeuAc","o":2,"v":16.2,"e":1},{"c":"RKO_VU","k":"mixed NeuAc","o":3,"v":6.6,"e":0.5},
{"c":"SW1116","k":"α2,6-NeuAc","o":1,"v":11.5,"e":1.3},{"c":"SW1116","k":"α2,3-NeuAc","o":2,"v":13.5,"e":0.8},{"c":"SW1116","k":"mixed NeuAc","o":3,"v":2.1,"e":0.3},
{"c":"SW1398_Vumc","k":"α2,6-NeuAc","o":1,"v":19.9,"e":0.5},{"c":"SW1398_Vumc","k":"α2,3-NeuAc","o":2,"v":15.2,"e":1.3},{"c":"SW1398_Vumc","k":"mixed NeuAc","o":3,"v":2,"e":0.5},
{"c":"SW1463","k":"α2,6-NeuAc","o":1,"v":18.5,"e":1.5},{"c":"SW1463","k":"α2,3-NeuAc","o":2,"v":23.5,"e":0.8},{"c":"SW1463","k":"mixed NeuAc","o":3,"v":26,"e":2.5},
{"c":"SW48","k":"α2,6-NeuAc","o":1,"v":6.2,"e":0.8},{"c":"SW48","k":"α2,3-NeuAc","o":2,"v":16.9,"e":2},{"c":"SW48","k":"mixed NeuAc","o":3,"v":2.3,"e":0.5},
{"c":"SW480","k":"α2,6-NeuAc","o":1,"v":12.3,"e":0.8},{"c":"SW480","k":"α2,3-NeuAc","o":2,"v":12.7,"e":1.8},{"c":"SW480","k":"mixed NeuAc","o":3,"v":2.4,"e":0.8},
{"c":"SW480_Vumc","k":"α2,6-NeuAc","o":1,"v":22.4,"e":0.3},{"c":"SW480_Vumc","k":"α2,3-NeuAc","o":2,"v":9.5,"e":0.3},{"c":"SW480_Vumc","k":"mixed NeuAc","o":3,"v":3.9,"e":0.5},
{"c":"SW620","k":"α2,6-NeuAc","o":1,"v":16.6,"e":2.3},{"c":"SW620","k":"α2,3-NeuAc","o":2,"v":14.6,"e":2.3},{"c":"SW620","k":"mixed NeuAc","o":3,"v":4.3,"e":1.2},
{"c":"SW948_Vumc","k":"α2,6-NeuAc","o":1,"v":13.1,"e":0.8},{"c":"SW948_Vumc","k":"α2,3-NeuAc","o":2,"v":11.1,"e":0.8},{"c":"SW948_Vumc","k":"mixed NeuAc","o":3,"v":4.8,"e":0.5},
{"c":"T84","k":"α2,6-NeuAc","o":1,"v":42.6,"e":2.5},{"c":"T84","k":"α2,3-NeuAc","o":2,"v":16.7,"e":1.2},{"c":"T84","k":"mixed NeuAc","o":3,"v":2.7,"e":0.8}
]
},
"hconcat": [
{"vconcat": [
{
 "title": {"text": "A", "dx": -31, "dy": 28},
 "width": 332, "height": 235,
 "data": {"name": "A"},
 "transform": [{"stack": "v", "groupby": ["c"], "sort": [{"field": "o", "order": "ascending"}], "as": ["y0", "y1"]}],
 "encoding": {
  "x": {"field": "c", "type": "nominal", "scale": {"domain": ["C10","CaCo2","WiDr****","Co115","Colo205_Vumc","Colo320_Vumc","DLD-1*","HCT116","HCT116_Vumc","HCT15_VUmc*","HCT8*","HT29****","HT29_VUmc****","KM12_Vumc","LOVO","LS174T_VUmc**","LS-180**","LS-411N","RKO_VU","SW1116","SW1398_Vumc","SW1463","SW48","SW480","SW480_Vumc","SW620","SW948_Vumc","T84"], "paddingInner": 0.3, "paddingOuter": 0.1},
   "axis": {"title": null, "labelAngle": -45, "labelFontSize": 7.5, "labelColor": "#333", "domainColor": "#999", "tickColor": "#999", "tickSize": 3, "tickBand": "extent", "labelPadding": 1}},
  "y": {"field": "y1", "type": "quantitative", "scale": {"domain": [0, 113], "nice": false},
   "axis": {"values": [0,20,40,60,80,100], "title": "Relative intensity [%]", "titleFontSize": 17, "titleFontWeight": "bold", "titleColor": "#222", "titleX": -15, "titleY": 111, "labelFontSize": 11, "labelFontWeight": "bold", "labelColor": "#222", "domainColor": "#999", "tickColor": "#999", "tickSize": 3, "labelPadding": 2}}
 },
 "layer": [
  {"mark": {"type": "bar", "stroke": "#222", "strokeWidth": 0.5},
   "encoding": {
    "y2": {"field": "y0"},
    "color": {"field": "k", "type": "nominal", "scale": {"domain": ["PauciMan","HighMan","Hybrid","Complex"], "range": ["#000000","#6e6e6e","#f4f4f4","#2a2a2a"]},
     "legend": {"orient": "none", "legendX": 77, "legendY": -7, "direction": "horizontal", "title": null, "symbolType": "square", "symbolSize": 30, "symbolStrokeColor": "#000", "symbolStrokeWidth": 0.5, "labelFontSize": 7.5, "labelColor": "#333", "columnPadding": 6, "labelOffset": 1}}
   }},
  {"transform": [{"filter": "datum.e > 0"}], "mark": {"type": "errorbar", "ticks": {"size": 4}, "thickness": 0.8, "color": "#111"},
   "encoding": {"yError": {"field": "e"}}}
 ]
},
{
 "title": {"text": "C", "dx": -31, "dy": 8},
 "width": 330, "height": 229,
 "data": {"name": "C"},
 "transform": [{"stack": "v", "groupby": ["c"], "sort": [{"field": "o", "order": "ascending"}], "as": ["y0", "y1"]}],
 "encoding": {
  "x": {"field": "c", "type": "nominal", "scale": {"domain": ["C10","CaCo2","WiDr****","Co115","Colo205_Vumc","Colo320_Vumc","DLD-1*","HCT116","HCT116_Vumc","HCT15_VUmc*","HCT8*","HT29****","HT29_VUmc****","KM12_Vumc","LOVO","LS174T_VUmc**","LS-180**","LS-411N","RKO_VU","SW1116","SW1398_Vumc","SW1463","SW48","SW480","SW480_Vumc","SW620","SW948_Vumc","T84"], "paddingInner": 0.3, "paddingOuter": 0.1},
   "axis": {"title": null, "labelAngle": -45, "labelFontSize": 7.5, "labelColor": "#333", "domainColor": "#999", "tickColor": "#999", "tickSize": 3, "tickBand": "extent", "labelPadding": 1}},
  "y": {"field": "y1", "type": "quantitative", "scale": {"domain": [0, 110], "nice": false},
   "axis": {"values": [0,20,40,60,80,100], "title": "Relative intensity [%]", "titleFontSize": 19, "titleFontWeight": "bold", "titleColor": "#222", "titleX": -14, "titleY": 100, "labelFontSize": 11, "labelFontWeight": "bold", "labelColor": "#222", "domainColor": "#999", "tickColor": "#999", "tickSize": 3, "labelPadding": 2}}
 },
 "layer": [
  {"mark": {"type": "bar", "stroke": "#222", "strokeWidth": 0.5},
   "encoding": {
    "y2": {"field": "y0"},
    "color": {"field": "k", "type": "nominal", "scale": {"domain": ["Hex>HexNAc","HexNAc=Hex","HexNAc>Hex"], "range": ["#1a1a1a","#a8a8a8","#6e6e6e"]},
     "legend": {"orient": "none", "legendX": 72, "legendY": -12.5, "direction": "horizontal", "title": null, "symbolType": "square", "symbolSize": 30, "symbolStrokeColor": "#000", "symbolStrokeWidth": 0.5, "labelFontSize": 7.5, "labelColor": "#333", "columnPadding": 10, "labelOffset": 1}}
   }},
  {"transform": [{"filter": "datum.e > 0"}], "mark": {"type": "errorbar", "ticks": {"size": 4}, "thickness": 0.8, "color": "#111"},
   "encoding": {"yError": {"field": "e"}}}
 ]
},
{
 "title": {"text": "E", "dx": -31, "dy": 13},
 "width": 330, "height": 238,
 "data": {"name": "E"},
 "transform": [{"stack": "v", "groupby": ["c"], "sort": [{"field": "o", "order": "ascending"}], "as": ["y0", "y1"]}],
 "encoding": {
  "x": {"field": "c", "type": "nominal", "scale": {"domain": ["C10","CaCo2","WiDr****","Co115","Colo205_Vumc","Colo320_Vumc","DLD-1*","HCT116","HCT116_Vumc","HCT15_VUmc*","HCT8*","HT29****","HT29_VUmc****","KM12_Vumc","LOVO","LS174T_VUmc**","LS-180**","LS-411N","RKO_VU","SW1116","SW1398_Vumc","SW1463","SW48","SW480","SW480_Vumc","SW620","SW948_Vumc","T84"], "paddingInner": 0.33, "paddingOuter": 0.1},
   "axis": {"title": null, "labelAngle": -45, "labelFontSize": 7.5, "labelColor": "#333", "domainColor": "#999", "tickColor": "#999", "tickSize": 3, "tickBand": "extent", "labelPadding": 1}},
  "y": {"field": "y1", "type": "quantitative", "scale": {"domain": [0, 100], "nice": false},
   "axis": {"values": [0,10,20,30,40,50,60,70,80,90,100], "title": "Relative intensity [%]", "titleFontSize": 19, "titleFontWeight": "bold", "titleColor": "#222", "titleX": -14, "titleY": 95, "labelFontSize": 11, "labelFontWeight": "bold", "labelColor": "#222", "domainColor": "#999", "tickColor": "#999", "tickSize": 3, "labelPadding": 2}}
 },
 "layer": [
  {"mark": {"type": "bar", "stroke": "#222", "strokeWidth": 0.5},
   "encoding": {
    "y2": {"field": "y0"},
    "color": {"field": "k", "type": "nominal", "scale": {"domain": ["Mono Fuc","Multi Fuc"], "range": ["#0d0d0d","#8c8c8c"]},
     "legend": {"orient": "none", "legendX": 114, "legendY": -13.5, "direction": "horizontal", "title": null, "symbolType": "square", "symbolSize": 30, "symbolStrokeColor": "#000", "symbolStrokeWidth": 0.5, "labelFontSize": 7.5, "labelColor": "#333", "columnPadding": 8, "labelOffset": 1}}
   }},
  {"transform": [{"filter": "datum.e > 0"}], "mark": {"type": "errorbar", "ticks": {"size": 4}, "thickness": 0.8, "color": "#111"},
   "encoding": {"yError": {"field": "e"}}}
 ]
}
], "spacing": 82, "bounds": "flush", "resolve": {"scale": {"color": "independent", "x": "independent", "y": "independent"}, "legend": {"color": "independent"}}},
{"vconcat": [
{
 "title": {"text": "B", "dx": -38, "dy": 22.5},
 "width": 332, "height": 235,
 "data": {"name": "B"},
 "mark": {"type": "bar", "stroke": "#000", "strokeWidth": 1.5},
 "encoding": {
  "x": {"field": "c", "type": "nominal", "sort": null, "scale": {"paddingInner": 0, "paddingOuter": 0},
   "axis": {"title": null, "labelAngle": -45, "labelFontSize": 8.5, "labelFontWeight": "bold", "labelColor": "#111", "domainColor": "#000", "domainWidth": 2, "tickColor": "#000", "tickWidth": 1.5, "tickSize": 4, "tickOffset": -9, "labelPadding": 2}},
  "xOffset": {"field": "k", "type": "nominal", "sort": ["Residual Pellet","Cell Surface"], "scale": {"paddingInner": 0.3, "paddingOuter": 0.15}},
  "y": {"field": "v", "type": "quantitative", "scale": {"domain": [0, 80], "nice": false},
   "axis": {"values": [0,20,40,60,80], "title": "Relative intensity High-Mannose [%]", "titleFontSize": 11.5, "titleFontWeight": "normal", "titleColor": "#222", "titleX": -18, "titleY": 113, "labelFontSize": 7.5, "labelFontWeight": "bold", "labelColor": "#111", "domainColor": "#000", "domainWidth": 2, "tickColor": "#000", "tickWidth": 1.5, "tickSize": 4, "labelPadding": 2}},
  "color": {"field": "k", "type": "nominal", "scale": {"domain": ["Residual Pellet","Cell Surface"], "range": ["#000000","#909090"]},
   "legend": {"orient": "none", "legendX": 17, "legendY": 10, "direction": "horizontal", "title": null, "symbolType": "M-1,-0.5H1V0.5H-1Z", "symbolSize": 169, "symbolStrokeColor": "#000", "symbolStrokeWidth": 1, "labelFontSize": 9, "labelColor": "#222", "columnPadding": 16, "labelOffset": 6}}
 }
},
{
 "title": {"text": "D", "dx": -38, "dy": 16},
 "width": 330, "height": 231,
 "data": {"name": "D"},
 "transform": [{"stack": "v", "groupby": ["c"], "sort": [{"field": "o", "order": "ascending"}], "as": ["y0", "y1"]}],
 "encoding": {
  "x": {"field": "c", "type": "nominal", "scale": {"domain": ["C10","CaCo2","WiDr****","Co115","Colo205_Vumc","Colo320_Vumc","DLD-1*","HCT116","HCT116_Vumc","HCT15_VUmc*","HCT8*","HT29****","HT29_VUmc****","KM12_Vumc","LOVO","LS174T_VUmc**","LS-180**","LS-411N","RKO_VU","SW1116","SW1398_Vumc","SW1463","SW48","SW480","SW480_Vumc","SW620","SW948_Vumc","T84"], "paddingInner": 0.4, "paddingOuter": 0.1},
   "axis": {"title": null, "labelAngle": -45, "labelFontSize": 7.5, "labelColor": "#333", "domainColor": "#999", "tickColor": "#999", "tickSize": 3, "tickBand": "extent", "labelPadding": 1}},
  "y": {"field": "y1", "type": "quantitative", "scale": {"domain": [0, 100], "nice": false},
   "axis": {"values": [0,10,20,30,40,50,60,70,80,90,100], "title": "Relative intensity [%]", "titleFontSize": 16, "titleFontWeight": "bold", "titleColor": "#222", "titleX": -20, "titleY": 64, "labelFontSize": 9.5, "labelFontWeight": "bold", "labelColor": "#222", "domainColor": "#999", "tickColor": "#999", "tickSize": 3, "labelPadding": 2}}
 },
 "layer": [
  {"mark": {"type": "bar", "stroke": "#222", "strokeWidth": 0.5},
   "encoding": {
    "y2": {"field": "y0"},
    "color": {"field": "k", "type": "nominal", "scale": {"domain": ["Mono-","Di-","Tri-","Tetra-","Penta-NeuAc"], "range": ["#0d0d0d","#808080","#f4f4f4","#3c3c3c","#c4c4c4"]},
     "legend": {"orient": "none", "legendX": 75, "legendY": -10.5, "direction": "horizontal", "title": null, "symbolType": "square", "symbolSize": 30, "symbolStrokeColor": "#000", "symbolStrokeWidth": 0.5, "labelFontSize": 7.5, "labelColor": "#333", "columnPadding": 6, "labelOffset": 1}}
   }},
  {"transform": [{"filter": "datum.e > 0"}], "mark": {"type": "errorbar", "ticks": {"size": 4}, "thickness": 0.8, "color": "#111"},
   "encoding": {"yError": {"field": "e"}}}
 ]
},
{
 "title": {"text": "D", "dx": -38, "dy": 13},
 "width": 331, "height": 231,
 "data": {"name": "F"},
 "transform": [{"stack": "v", "groupby": ["c"], "sort": [{"field": "o", "order": "ascending"}], "as": ["y0", "y1"]}],
 "encoding": {
  "x": {"field": "c", "type": "nominal", "scale": {"domain": ["C10","CaCo2","WiDr****","Co115","Colo205_Vumc","Colo320_Vumc","DLD-1*","HCT116","HCT116_Vumc","HCT15_VUmc*","HCT8*","HT29****","HT29_VUmc****","KM12_Vumc","LOVO","LS174T_VUmc**","LS-180**","LS-411N","RKO_VU","SW1116","SW1398_Vumc","SW1463","SW48","SW480","SW480_Vumc","SW620","SW948_Vumc","T84"], "paddingInner": 0.35, "paddingOuter": 0.1},
   "axis": {"title": null, "labelAngle": -45, "labelFontSize": 7.5, "labelColor": "#333", "domainColor": "#999", "tickColor": "#999", "tickSize": 3, "tickBand": "extent", "labelPadding": 1}},
  "y": {"field": "y1", "type": "quantitative", "scale": {"domain": [0, 100], "nice": false},
   "axis": {"values": [0,10,20,30,40,50,60,70,80,90,100], "title": "Relative intensity [%]", "titleFontSize": 19, "titleFontWeight": "bold", "titleColor": "#222", "titleX": -18, "titleY": 81, "labelFontSize": 9.5, "labelFontWeight": "bold", "labelColor": "#222", "domainColor": "#999", "tickColor": "#999", "tickSize": 3, "labelPadding": 2}}
 },
 "layer": [
  {"mark": {"type": "bar", "stroke": "#222", "strokeWidth": 0.5},
   "encoding": {
    "y2": {"field": "y0"},
    "color": {"field": "k", "type": "nominal", "scale": {"domain": ["α2,6-NeuAc","α2,3-NeuAc","mixed NeuAc"], "range": ["#0d0d0d","#8c8c8c","#ececec"]},
     "legend": {"orient": "none", "legendX": 85, "legendY": -19.5, "direction": "horizontal", "title": null, "symbolType": "square", "symbolSize": 30, "symbolStrokeColor": "#000", "symbolStrokeWidth": 0.5, "labelFontSize": 7.5, "labelColor": "#333", "columnPadding": 10, "labelOffset": 1}}
   }},
  {"transform": [{"filter": "datum.e > 0"}], "mark": {"type": "errorbar", "ticks": {"size": 4}, "thickness": 0.8, "color": "#111"},
   "encoding": {"yError": {"field": "e"}}}
 ]
}
], "spacing": 83, "bounds": "flush", "resolve": {"scale": {"color": "independent", "x": "independent", "y": "independent"}, "legend": {"color": "independent"}}}
]
}
